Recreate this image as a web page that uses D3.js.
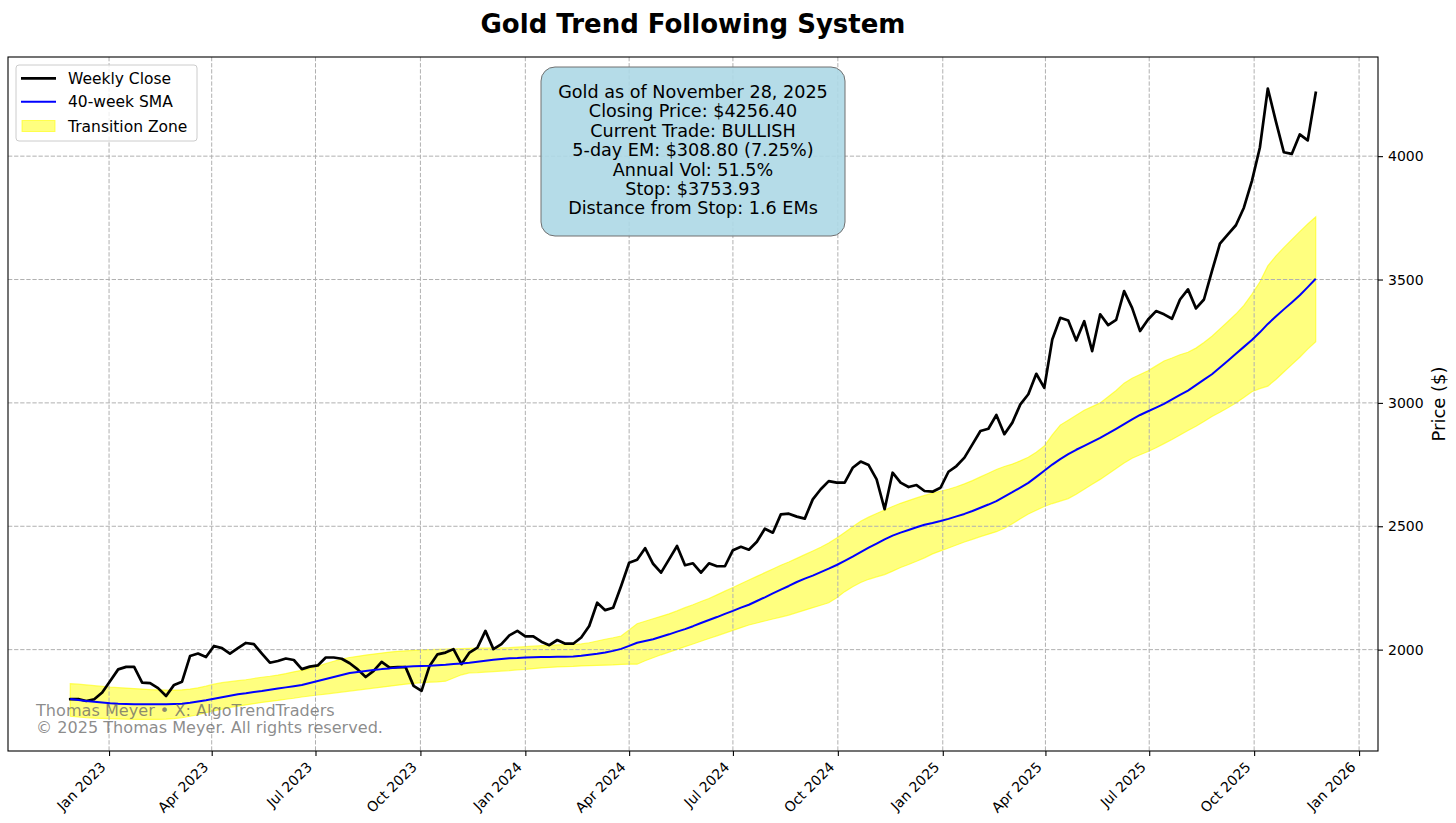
<!DOCTYPE html>
<html lang="en">
<head>
<meta charset="UTF-8">
<title>Gold Trend Following System</title>
<script src="https://d3js.org/d3.v7.min.js"></script>
<style>
  body { margin: 0; background: #fff; }
  svg { display: block; font-family: 'DejaVu Sans', sans-serif; }
</style>
</head>
<body>
<div id="chart"></div>
<script>
// weekly closes, Mondays from 28 Nov 2022 to 24 Nov 2025
const closes = [
  1799, 1800, 1792, 1799, 1826, 1873, 1920, 1930, 1930, 1866,
  1864, 1844, 1812, 1857, 1870, 1974, 1984, 1970, 2015, 2006,
  1984, 2006, 2027, 2022, 1984, 1947, 1954, 1964, 1958, 1921,
  1931, 1936, 1968, 1968, 1963, 1945, 1920, 1889, 1914, 1950,
  1927, 1929, 1929, 1853, 1833, 1934, 1981, 1988, 2002, 1941,
  1988, 2008, 2076, 2002, 2022, 2058, 2076, 2054, 2054, 2032,
  2018, 2039, 2024, 2024, 2049, 2096, 2190, 2160, 2170, 2258,
  2352, 2364, 2411, 2348, 2312, 2366, 2420, 2342, 2350, 2312,
  2350, 2338, 2338, 2403, 2417, 2405, 2437, 2490, 2474, 2548,
  2551, 2539, 2531, 2609, 2650, 2683, 2677, 2677, 2737, 2762,
  2748, 2690, 2569, 2717, 2677, 2659, 2667, 2643, 2640, 2656,
  2721, 2744, 2778, 2832, 2886, 2895, 2951, 2873, 2920, 2994,
  3035, 3118, 3061, 3257, 3345, 3334, 3253, 3331, 3210, 3359,
  3315, 3336, 3453, 3385, 3291, 3338, 3372, 3359, 3341, 3419,
  3460, 3383, 3419, 3534, 3645, 3683, 3720, 3791, 3899, 4034,
  4274, 4142, 4016, 4009, 4088, 4064, 4256.4
];

const sma40 = [
  1800, 1796, 1792, 1789, 1786, 1783, 1781, 1780, 1779, 1779,
  1779, 1779, 1779, 1780, 1781, 1785, 1790, 1795, 1801, 1807,
  1813, 1819, 1823, 1828, 1832, 1837, 1842, 1847, 1852, 1857,
  1865, 1873, 1881, 1889, 1897, 1905, 1909, 1913, 1917, 1921,
  1924, 1928, 1931, 1933, 1934, 1935, 1937, 1939, 1942, 1944,
  1947, 1951, 1955, 1959, 1962, 1965, 1966, 1968, 1969, 1970,
  1970, 1971, 1971, 1972, 1975, 1979, 1983, 1988, 1995, 2003,
  2015, 2028, 2035, 2042, 2052, 2062, 2073, 2083, 2095, 2108,
  2120, 2132, 2145, 2157, 2170, 2182, 2197, 2212, 2228, 2243,
  2258, 2274, 2288, 2300, 2314, 2328, 2343, 2360, 2377, 2395,
  2413, 2430, 2447, 2462, 2474, 2485, 2496, 2506, 2513, 2521,
  2530, 2540, 2550, 2562, 2575, 2588, 2602, 2620, 2638, 2657,
  2676, 2700, 2725, 2750, 2772, 2792, 2810, 2826, 2842, 2858,
  2876, 2895, 2914, 2933, 2951, 2966, 2981, 2996, 3014, 3032,
  3050, 3072, 3094, 3116, 3143, 3171, 3199, 3227, 3255, 3286,
  3320, 3350, 3379, 3407, 3436, 3469, 3503
];

const zoneUpper = [
  1862, 1860, 1857, 1854, 1851, 1848, 1846, 1844, 1842, 1840,
  1838, 1837, 1836, 1836, 1837, 1840, 1845, 1852, 1860, 1866,
  1870, 1874, 1878, 1883, 1888, 1892, 1897, 1903, 1910, 1916,
  1922, 1932, 1943, 1953, 1962, 1968, 1973, 1978, 1982, 1986,
  1990, 1993, 1995, 1997, 1999, 2000, 2001, 2002, 2003, 2004,
  2005, 2006, 2006, 2007, 2007, 2008, 2010, 2012, 2014, 2016,
  2017, 2019, 2020, 2021, 2023, 2028, 2035, 2042, 2048, 2055,
  2080, 2105, 2115, 2125, 2135, 2145, 2157, 2170, 2182, 2195,
  2207, 2222, 2237, 2252, 2267, 2282, 2297, 2312, 2327, 2342,
  2355, 2370, 2385, 2400, 2415, 2432, 2452, 2475, 2498, 2520,
  2537, 2552, 2566, 2580, 2593, 2604, 2615, 2625, 2634, 2642,
  2650, 2660, 2672, 2685, 2700, 2715, 2730, 2742, 2752, 2765,
  2780, 2800, 2825, 2870, 2910, 2930, 2950, 2970, 2985, 3000,
  3025, 3050, 3080, 3100, 3115, 3130, 3150, 3170, 3182, 3195,
  3205, 3222, 3245, 3270, 3300, 3330, 3360, 3395, 3440, 3490,
  3555, 3595, 3629, 3662, 3694, 3725, 3754
];

const zoneLower = [
  1730, 1727, 1724, 1722, 1721, 1720, 1719, 1718, 1717, 1717,
  1717, 1717, 1718, 1720, 1724, 1730, 1736, 1745, 1752, 1759,
  1766, 1771, 1776, 1781, 1786, 1790, 1794, 1799, 1803, 1808,
  1812, 1816, 1820, 1824, 1828, 1832, 1836, 1840, 1844, 1848,
  1852, 1856, 1860, 1863, 1866, 1868, 1869, 1872, 1885, 1898,
  1906, 1907, 1909, 1911, 1913, 1915, 1918, 1920, 1923, 1926,
  1928, 1930, 1931, 1932, 1934, 1935, 1936, 1937, 1938, 1940,
  1941, 1941, 1955, 1967, 1979, 1990, 2001, 2012, 2023, 2034,
  2045, 2056, 2067, 2078, 2089, 2100, 2108, 2116, 2124, 2132,
  2140, 2150, 2160, 2170, 2180, 2190, 2210, 2235, 2255, 2272,
  2285, 2295, 2304, 2318, 2333, 2345, 2358, 2372, 2388, 2400,
  2412, 2424, 2436, 2447, 2458, 2468, 2478, 2492, 2510, 2530,
  2550, 2565, 2580, 2592, 2602, 2612, 2630, 2650, 2670, 2690,
  2712, 2734, 2756, 2776, 2790, 2803, 2818, 2835, 2852, 2870,
  2888, 2905, 2925, 2945, 2962, 2980, 3000, 3022, 3045, 3058,
  3068, 3095, 3125, 3155, 3185, 3218, 3248
];

const yTicks = [2000, 2500, 3000, 3500, 4000];
const xTickDates = [
  "2023-01-01", "2023-04-01", "2023-07-01", "2023-10-01",
  "2024-01-01", "2024-04-01", "2024-07-01", "2024-10-01",
  "2025-01-01", "2025-04-01", "2025-07-01", "2025-10-01", "2026-01-01"
];
const legendLabels = ["Weekly Close", "40-week SMA", "Transition Zone"];
const infoLines = [
  "Gold as of November 28, 2025",
  "Closing Price: $4256.40",
  "Current Trade: BULLISH",
  "5-day EM: $308.80 (7.25%)",
  "Annual Vol: 51.5%",
  "Stop: $3753.93",
  "Distance from Stop: 1.6 EMs"
];
const creditLines = [
  "Thomas Meyer \u2022 X: AlgoTrendTraders",
  "\u00a9 2025 Thomas Meyer. All rights reserved."
];

const W = 1456, H = 823;
const margin = {top: 57, right: 78, bottom: 72, left: 8};
const iw = W - margin.left - margin.right;
const ih = H - margin.top - margin.bottom;

const weeks = d3.timeMonday.range(new Date(2022, 10, 28), new Date(2025, 10, 25));
const rows = weeks.map((d, i) => ({
  date: d, close: closes[i], sma: sma40[i], hi: zoneUpper[i], lo: zoneLower[i]
}));

// 5% padding like matplotlib autoscale
const [d0, d1] = d3.extent(weeks);
const span = d1 - d0;
const x = d3.scaleTime()
  .domain([new Date(+d0 - span * 0.05), new Date(+d1 + span * 0.05)])
  .range([0, iw]);

const yMin = d3.min(zoneLower), yMax = d3.max(closes);
const yPad = (yMax - yMin) * 0.05;
const y = d3.scaleLinear().domain([yMin - yPad, yMax + yPad]).range([ih, 0]);

const svg = d3.select("#chart").append("svg")
  .attr("width", W).attr("height", H);

svg.append("text")
  .attr("x", margin.left + iw / 2).attr("y", 33)
  .attr("text-anchor", "middle")
  .style("font-size", "26px").style("font-weight", "bold")
  .text("Gold Trend Following System");

const g = svg.append("g").attr("transform", `translate(${margin.left},${margin.top})`);

const parse = d3.timeParse("%Y-%m-%d");
const xTicks = xTickDates.map(parse);

// transition zone
g.append("path")
  .datum(rows)
  .attr("d", d3.area().x(d => x(d.date)).y0(d => y(d.lo)).y1(d => y(d.hi)))
  .attr("fill", "yellow").attr("fill-opacity", 0.5)
  .attr("stroke", "yellow").attr("stroke-opacity", 0.6).attr("stroke-width", 1.2);

// grid
const grid = g.append("g").attr("stroke", "#b0b0b0").attr("stroke-width", 1)
  .attr("stroke-dasharray", "4.3,1.8");
grid.selectAll(".gx").data(xTicks).join("line")
  .attr("x1", d => x(d)).attr("x2", d => x(d)).attr("y1", 0).attr("y2", ih);
grid.selectAll(".gy").data(yTicks).join("line")
  .attr("x1", 0).attr("x2", iw).attr("y1", d => y(d)).attr("y2", d => y(d));

g.append("path")
  .datum(rows)
  .attr("d", d3.line().x(d => x(d.date)).y(d => y(d.close)))
  .attr("fill", "none").attr("stroke", "black").attr("stroke-width", 2.7)
  .attr("stroke-linejoin", "round").attr("stroke-linecap", "square");

g.append("path")
  .datum(rows)
  .attr("d", d3.line().x(d => x(d.date)).y(d => y(d.sma)))
  .attr("fill", "none").attr("stroke", "blue").attr("stroke-width", 2)
  .attr("stroke-linejoin", "round");

// axes
const xAxis = g.append("g").attr("transform", `translate(0,${ih})`)
  .call(d3.axisBottom(x).tickValues(xTicks).tickSize(5).tickFormat(d3.timeFormat("%b %Y")));
xAxis.select(".domain").remove();
xAxis.selectAll(".tick line").attr("stroke", "black").attr("stroke-width", 1.1);
xAxis.selectAll(".tick text")
  .attr("x", 0).attr("y", 0).attr("dy", 0)
  .attr("transform", "translate(-3,17) rotate(-45)")
  .attr("text-anchor", "end")
  .attr("fill", "black")
  .style("font-size", "14px").style("font-family", "'DejaVu Sans', sans-serif");

const yAxis = g.append("g").attr("transform", `translate(${iw},0)`)
  .call(d3.axisRight(y).tickValues(yTicks).tickSize(5).tickPadding(5).tickFormat(d3.format("d")));
yAxis.select(".domain").remove();
yAxis.selectAll(".tick line").attr("stroke", "black").attr("stroke-width", 1.1);
yAxis.selectAll(".tick text").attr("fill", "black")
  .style("font-size", "14px").style("font-family", "'DejaVu Sans', sans-serif");

svg.append("text")
  .attr("transform", `translate(1445,${margin.top + ih / 2}) rotate(-90)`)
  .attr("text-anchor", "middle")
  .style("font-size", "18px")
  .text("Price ($)");

// frame
g.append("rect").attr("width", iw).attr("height", ih)
  .attr("fill", "none").attr("stroke", "black").attr("stroke-width", 1.1);

// credits
svg.append("g").selectAll("text").data(creditLines).join("text")
  .attr("x", 36).attr("y", (d, i) => 715.5 + i * 17.5)
  .attr("fill", "#666").attr("fill-opacity", 0.75)
  .style("font-size", "16.1px")
  .text(d => d);

// info box
const info = svg.append("g");
info.append("rect")
  .attr("x", 541).attr("y", 67).attr("width", 304).attr("height", 169).attr("rx", 14)
  .attr("fill", "#add8e6").attr("fill-opacity", 0.9)
  .attr("stroke", "#707070").attr("stroke-width", 1);
info.selectAll("text").data(infoLines).join("text")
  .attr("x", 693).attr("y", (d, i) => 98 + i * 19.4)
  .attr("text-anchor", "middle")
  .style("font-size", "17.6px")
  .text(d => d);

// legend
const lg = svg.append("g");
lg.append("rect")
  .attr("x", 16).attr("y", 65).attr("width", 181).attr("height", 76).attr("rx", 3)
  .attr("fill", "white").attr("fill-opacity", 0.8)
  .attr("stroke", "#cccccc").attr("stroke-width", 1);
const rowY = [78.3, 101.7, 126];
lg.append("line").attr("x1", 21).attr("x2", 56).attr("y1", rowY[0]).attr("y2", rowY[0])
  .attr("stroke", "black").attr("stroke-width", 2.7);
lg.append("line").attr("x1", 21).attr("x2", 56).attr("y1", rowY[1]).attr("y2", rowY[1])
  .attr("stroke", "blue").attr("stroke-width", 2);
lg.append("rect").attr("x", 22).attr("y", rowY[2] - 5.5).attr("width", 33).attr("height", 11)
  .attr("fill", "yellow").attr("fill-opacity", 0.5)
  .attr("stroke", "yellow").attr("stroke-opacity", 0.6);
lg.selectAll(".lt").data(legendLabels).join("text")
  .attr("x", 68).attr("y", (d, i) => rowY[i] + 5.5)
  .style("font-size", "15.5px")
  .text(d => d);
</script>
</body>
</html>
